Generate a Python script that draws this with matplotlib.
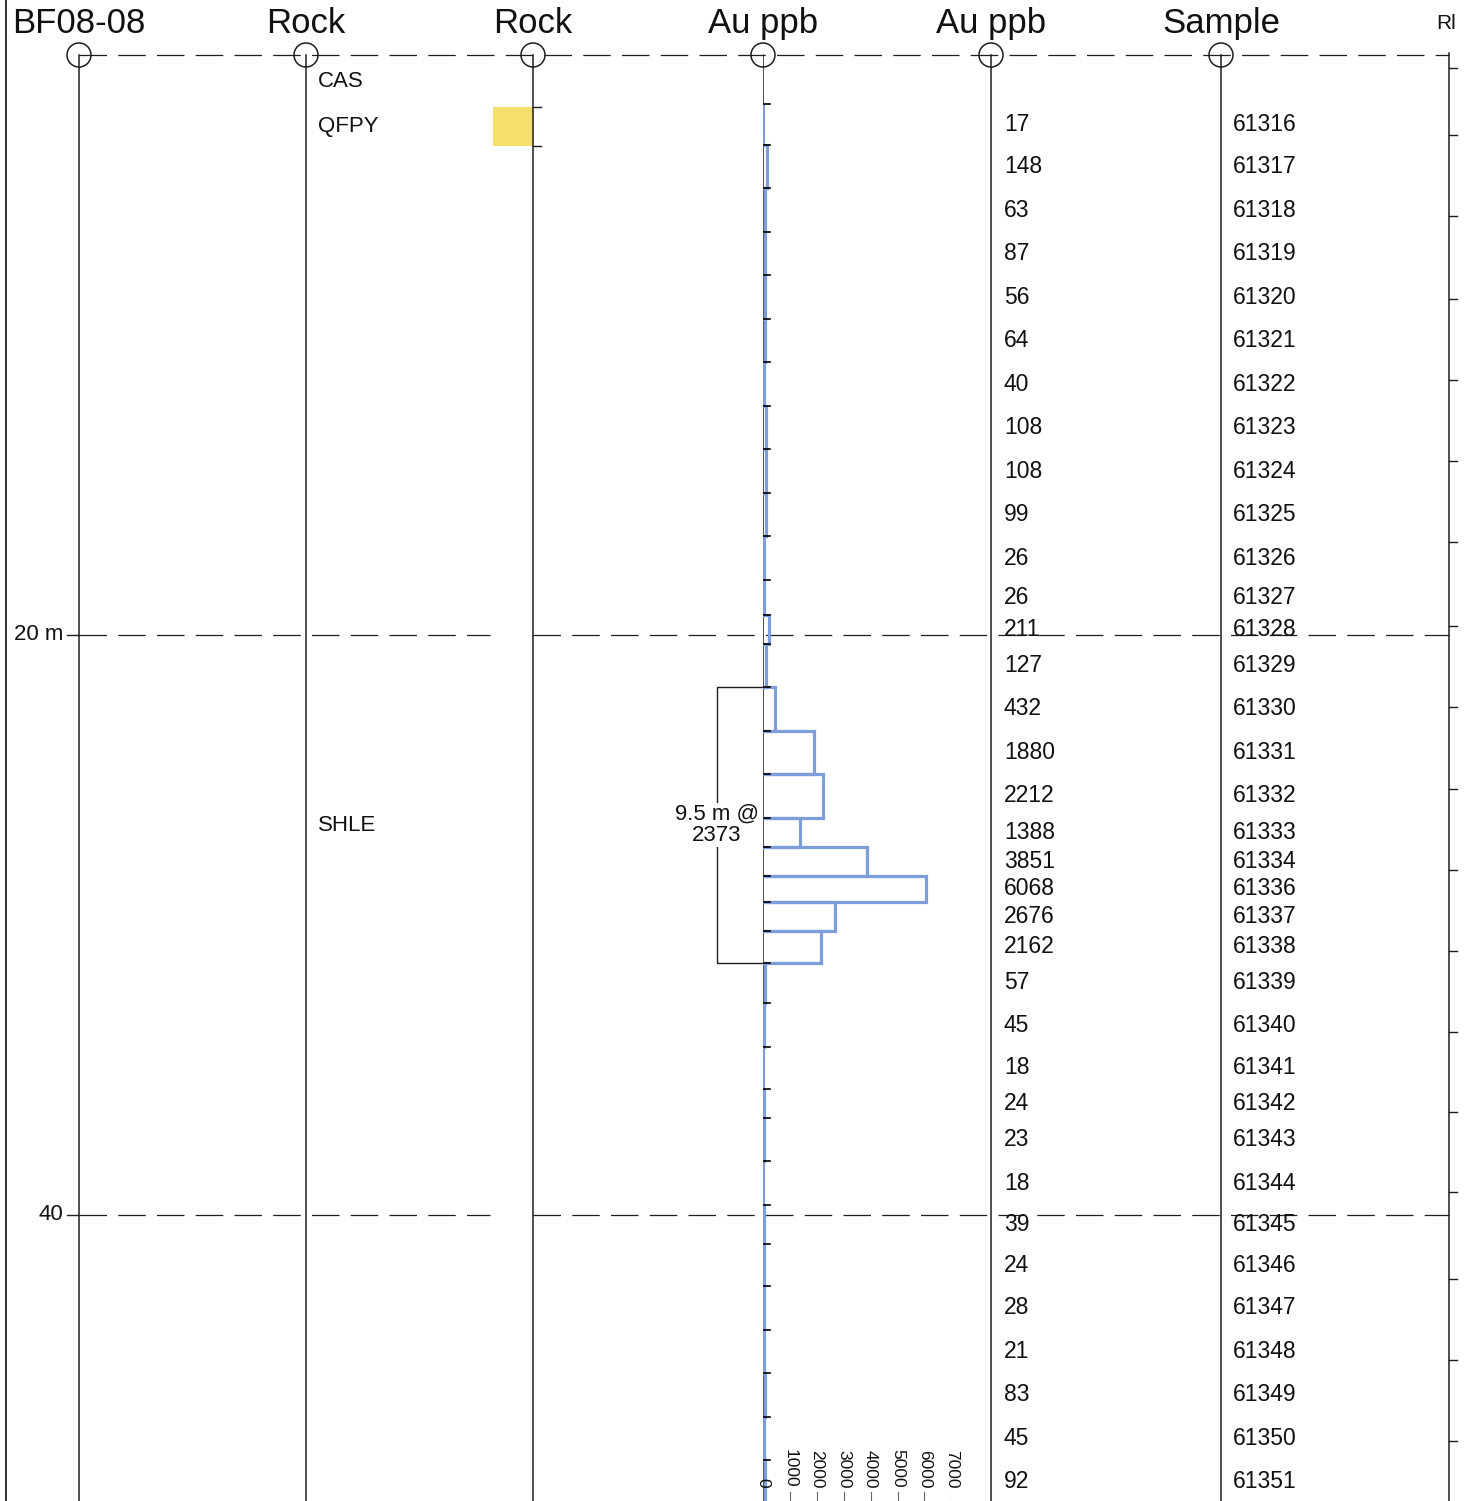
import matplotlib.pyplot as plt
from matplotlib.patches import Ellipse, Rectangle

plt.rcParams['font.family'] = ['Liberation Sans', 'DejaVu Sans']

# ---- drill hole data ----
hole_id = "BF08-08"

sample_ids = [61316, 61317, 61318, 61319, 61320, 61321, 61322, 61323, 61324, 61325,
              61326, 61327, 61328, 61329, 61330, 61331, 61332, 61333, 61334, 61336,
              61337, 61338, 61339, 61340, 61341, 61342, 61343, 61344, 61345, 61346,
              61347, 61348, 61349, 61350, 61351]
sample_from = [1.7, 3.1, 4.6, 6.1, 7.6, 9.1, 10.6, 12.1, 13.6, 15.1,
               16.6, 18.1, 19.3, 20.3, 21.8, 23.3, 24.8, 26.3, 27.3, 28.3,
               29.2, 30.2, 31.3, 32.7, 34.2, 35.65, 36.65, 38.15, 39.65, 41.0,
               42.45, 43.95, 45.45, 46.95, 48.45]
sample_to = sample_from[1:] + [49.95]
au_ppb = [17, 148, 63, 87, 56, 64, 40, 108, 108, 99,
          26, 26, 211, 127, 432, 1880, 2212, 1388, 3851, 6068,
          2676, 2162, 57, 45, 18, 24, 23, 18, 39, 24,
          28, 21, 83, 45, 92]

rock_codes = ["CAS", "QFPY", "SHLE"]
rock_from = [0.0, 1.8, 3.15]
rock_to = [1.8, 3.15, 50.0]
rock_colors = [None, "#f6df6d", None]

run_depths = [0.45, 2.75, 5.55, 8.4, 11.2, 14.0, 16.8, 19.7, 22.5, 25.3,
              28.1, 30.9, 33.7, 36.45, 39.2, 42.2, 45.0, 47.8]

depth_marks = [20, 40]
depth_labels = ["20 m", "40"]

intercept_from = 21.8
intercept_to = 31.3
intercept_len = 9.5
intercept_grade = 2373

au_scale = [0, 1000, 2000, 3000, 4000, 5000, 6000, 7000]

headers = ["BF08-08", "Rock", "Rock", "Au ppb", "Au ppb", "Sample"]

# ---- layout (pixels) ----
W, H = 1476, 1501
Y0 = 55.0          # pixel row of depth 0
PX_PER_M = 29.0
col_x = [79, 306, 533, 763, 991, 1221]
right_x = 1449
rock_box_left = 493
LINE = "#1e1e1e"
TXT = "#111111"
BLUE = "#7e9edb"
DASH = (0, (22, 9))


def px_y(p):
    return (p - Y0) / PX_PER_M


fig = plt.figure(figsize=(W / 100, H / 100), dpi=100)
ax = fig.add_axes([0, 0, 1, 1])
ax.set_xlim(0, W)
ax.set_ylim(px_y(H), px_y(0))
ax.axis('off')

bottom = px_y(H)

# frame and column lines
ax.plot([6, 6], [px_y(0), bottom], color=LINE, lw=1.3)
for x in col_x:
    if x != 763:
        ax.plot([x, x], [0, bottom], color=LINE, lw=1.1)
    ax.add_patch(Ellipse((x, 0), 24, 24 / PX_PER_M, fill=False, ec=LINE, lw=1.1, zorder=4))
ax.plot([right_x, right_x], [-0.07, bottom], color=LINE, lw=1.1)
for d in run_depths:
    ax.plot([right_x, right_x + 8], [d, d], color=LINE, lw=1.0)

# dashed depth lines
ax.plot([col_x[0], right_x], [0, 0], color=LINE, lw=0.9, ls=DASH)
for d, lab in zip(depth_marks, depth_labels):
    ax.plot([67, col_x[0]], [d, d], color=LINE, lw=1.0)
    ax.plot([col_x[0], rock_box_left - 3], [d, d], color=LINE, lw=0.9, ls=DASH)
    ax.plot([col_x[2], right_x], [d, d], color=LINE, lw=0.9, ls=DASH)
    ax.text(63, d, lab, ha='right', va='center', fontsize=16, color=TXT)

# headers
for x, h in zip(col_x, headers):
    ax.text(x, px_y(33), h, ha='center', va='baseline', fontsize=25, color=TXT)
ax.text(1436, px_y(29), "Rl", ha='left', va='baseline', fontsize=15, color=TXT)

# lithology
for code, f, t, c in zip(rock_codes, rock_from, rock_to, rock_colors):
    ax.text(318, (f + t) / 2, code, ha='left', va='center', fontsize=16, color=TXT)
    if c:
        ax.add_patch(Rectangle((rock_box_left, f), col_x[2] - rock_box_left, t - f,
                               fc=c, ec='none', zorder=1))
for d in rock_from[1:]:
    ax.plot([col_x[2], col_x[2] + 8], [d, d], color=LINE, lw=1.0)

# assay and sample labels
for s, f, t, v in zip(sample_ids, sample_from, sample_to, au_ppb):
    m = (f + t) / 2
    ax.text(1004, m, str(v), ha='left', va='center', fontsize=16.5, color=TXT)
    ax.text(1233, m, str(s), ha='left', va='center', fontsize=16.5, color=TXT)

# intercept bracket
bx = 717
ax.plot([col_x[3], bx, bx, col_x[3]],
        [intercept_from, intercept_from, intercept_to, intercept_to],
        color=LINE, lw=1.0)
ax.text(bx, (intercept_from + intercept_to) / 2, f"{intercept_len} m @\n{intercept_grade}",
        ha='center', va='center', fontsize=16, color=TXT, linespacing=1.05,
        bbox=dict(fc='white', ec='none', pad=0.5), zorder=5)

# Au histogram
au_px = 26.9 / 1000
ax_au = fig.add_axes([col_x[3] / W, 0, 7000 * au_px / W, 1], sharey=ax)
ax_au.set_xlim(0, 7000)
ax_au.axis('off')
ax_au.patch.set_visible(False)

ax_au.plot([0, 0], [0, bottom], color=LINE, lw=1.1, zorder=1)
for f, t, v in zip(sample_from, sample_to, au_ppb):
    ax_au.plot([0, v, v, 0], [f, f, t, t], color=BLUE, lw=2.3, zorder=2,
               solid_joinstyle='miter')
for d in sample_from + [sample_to[-1]]:
    ax_au.plot([0, 250], [d, d], color='black', lw=1.2, zorder=3)

for v in au_scale:
    ax_au.text(v, px_y(1488), str(v), rotation=270, ha='center', va='bottom',
               fontsize=12.5, color=TXT, clip_on=False)
    if v > 0:
        ax_au.plot([v, v], [px_y(1492), bottom], color="#666666", lw=0.8)

fig.savefig('out.png', dpi=100)
